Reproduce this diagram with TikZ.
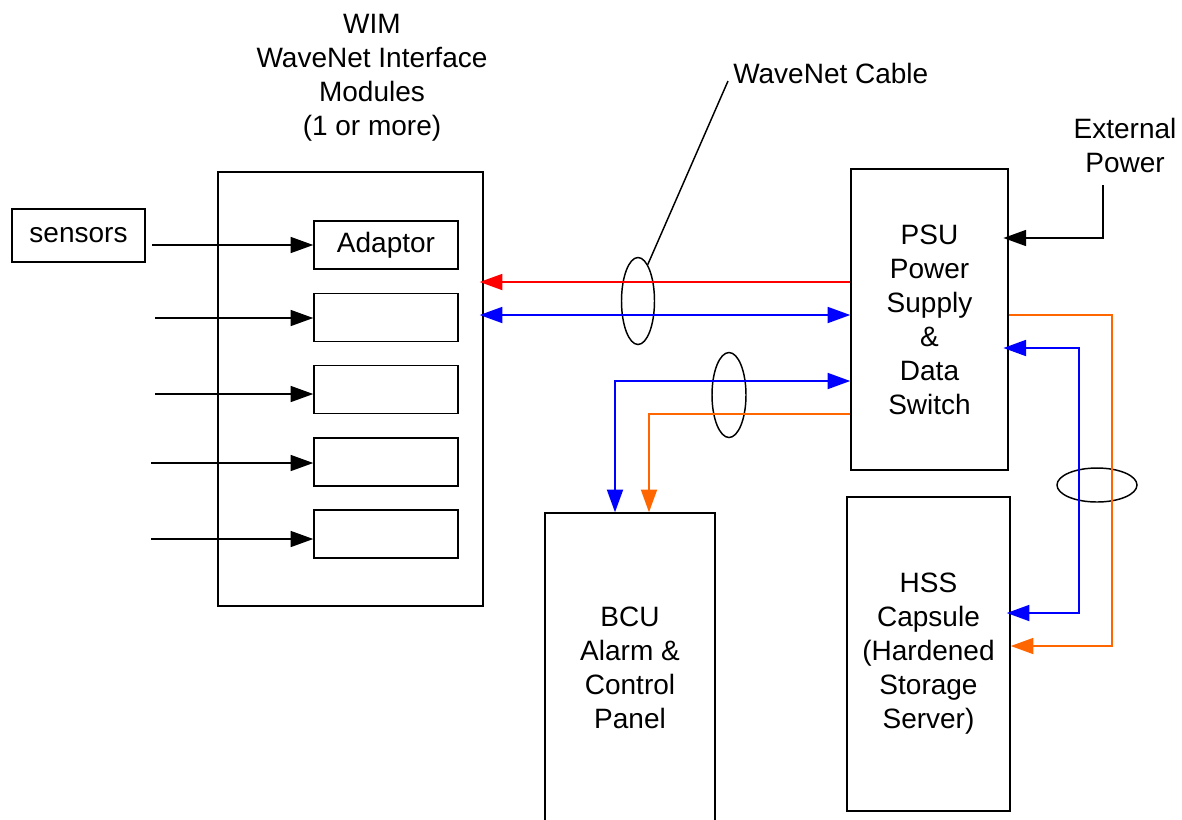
\documentclass[tikz,border=0pt]{standalone}
\usepackage{fontspec}
\setmainfont{Liberation Sans}
\usetikzlibrary{arrows.meta,shapes.geometric}
\definecolor{lineblue}{RGB}{0,0,255}
\definecolor{linered}{RGB}{255,0,0}
\definecolor{lineorange}{RGB}{255,102,0}
\begin{document}
\begin{tikzpicture}[x=0.75pt,y=-0.75pt,
  box/.style={draw,line width=1.1pt,rectangle,inner sep=0pt,align=center,
    font=\fontsize{21pt}{25.5pt}\selectfont},
  lbl/.style={inner sep=0pt,align=center,font=\fontsize{21pt}{25.5pt}\selectfont},
  tip/.style={-{Triangle[length=17pt,width=12pt]}},
  dtip/.style={{Triangle[length=17pt,width=12pt]}-{Triangle[length=17pt,width=12pt]}},
  blk/.style={line width=1.1pt},
  col/.style={line width=1.4pt},
  cable/.style={draw,ellipse,line width=1.1pt,inner sep=0pt}]
\useasboundingbox (0,0) rectangle (1182,819);
% boxes
\node[box,minimum width=198.75pt,minimum height=325.5pt] (wim) at (350.5,389) {};
\node[box,minimum width=99.75pt,minimum height=39.75pt] (sensors) at (78.5,235.5) {sensors};
\node[box,minimum width=108pt,minimum height=36pt] (adaptor) at (386,245) {Adaptor};
\node[box,minimum width=108pt,minimum height=36pt] (b2) at (386,317.5) {};
\node[box,minimum width=108pt,minimum height=36pt] (b3) at (386,389.5) {};
\node[box,minimum width=108pt,minimum height=36pt] (b4) at (386,462) {};
\node[box,minimum width=108pt,minimum height=36pt] (b5) at (386,534) {};
\node[box,minimum width=117.75pt,minimum height=225.75pt] (psu) at (929.5,319.5)
  {PSU\\Power\\Supply\\\&\\Data\\Switch};
\node[box,minimum width=122.25pt,minimum height=235.5pt] (hss) at (928.5,654)
  {HSS\\Capsule\\(Hardened\\Storage\\Server)};
\node[box,minimum width=127.5pt,minimum height=231.75pt] (bcu) at (630,667.5)
  {BCU\\Alarm \&\\Control\\Panel};
% labels
\node[lbl] (wimlabel) at (372,78) {WIM\\WaveNet Interface\\Modules\\(1 or more)};
\node[lbl,anchor=west] (cablelabel) at (733,73) {WaveNet Cable};
\node[lbl] (extlabel) at (1125,145) {External\\Power};
% cable ellipses
\node[cable,minimum width=24.75pt,minimum height=65.25pt] (e1) at (638,301) {};
\node[cable,minimum width=25.5pt,minimum height=63.75pt] (e2) at (729,395) {};
\node[cable,minimum width=60pt,minimum height=25.5pt] (e3) at (1097,485) {};
% helper coordinates
\coordinate (in2) at (155,318);
\coordinate (in3) at (155,394);
\coordinate (in4) at (151,463);
\coordinate (in5) at (151,539);
\coordinate (yR) at (0,282);
\coordinate (yB) at (0,315);
\coordinate (yB2) at (0,381);
\coordinate (yO2) at (0,414);
\coordinate (xB2) at (615,0);
\coordinate (xO2) at (649,0);
\coordinate (cB) at (615,381);
\coordinate (cO) at (649,414);
\coordinate (rO1) at (1112,315);
\coordinate (rO2) at (1112,646);
\coordinate (rB1) at (1079,348);
\coordinate (rB2) at (1079,613);
\coordinate (ext1) at (1103,185);
\coordinate (ext2) at (1103,238);
\coordinate (lead) at (728,81);
% black inputs
\draw[blk,tip,shorten <=5pt] (sensors.east |- adaptor.west) -- (adaptor.west);
\draw[blk,tip] (in2) -- (b2.west |- in2);
\draw[blk,tip] (in3) -- (b3.west |- in3);
\draw[blk,tip] (in4) -- (b4.west |- in4);
\draw[blk,tip] (in5) -- (b5.west |- in5);
% WaveNet cable to WIM
\draw[col,linered,tip,shorten >=-3pt] (psu.west |- yR) -- (wim.east |- yR);
\draw[col,lineblue,dtip,shorten <=-3pt] (wim.east |- yB) -- (psu.west |- yB);
% to BCU
\draw[col,lineblue,dtip] (psu.west |- yB2) -- (cB) -- (bcu.north -| xB2);
\draw[col,lineorange,tip] (psu.west |- yO2) -- (cO) -- (bcu.north -| xO2);
% to HSS
\draw[col,lineorange,tip] (psu.east |- rO1) -- (rO1) -- (rO2) -- (hss.east |- rO2);
\draw[col,lineblue,dtip,shorten <=-4pt,shorten >=-3pt] (psu.east |- rB1) -- (rB1) -- (rB2) -- (hss.east |- rB2);
% external power
\draw[blk,tip,shorten >=-4pt] (ext1) -- (ext2) -- (psu.east |- ext2);
% leader
\draw[blk] (e1.75) -- (lead);
\end{tikzpicture}
\end{document}
